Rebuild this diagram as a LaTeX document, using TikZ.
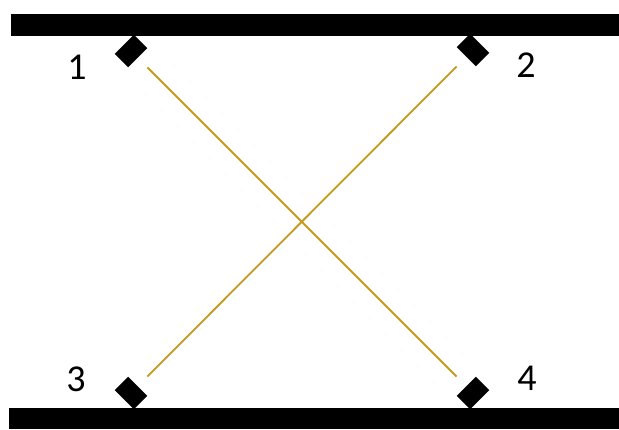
\documentclass[tikz,border=0pt]{standalone}
\usepackage{fontspec}
\setmainfont{Carlito}
\usetikzlibrary{positioning}
\definecolor{beam}{RGB}{196,154,28}
\tikzset{
    sensor/.style={rectangle, fill=black, draw=none, inner sep=0pt, minimum width=27pt, minimum height=19pt},
    num/.style={font=\fontsize{38}{44}\selectfont, inner sep=0pt},
    ray/.style={beam, line width=1.8pt, shorten <=13.5pt, shorten >=13.5pt}
}
\begin{document}
\begin{tikzpicture}[x=1pt, y=1pt]
  \useasboundingbox (0,0) rectangle (619,429);
  % walls
  \fill (11,393) rectangle (619,415);
  \fill (9,0) rectangle (619,21);

  % sensors
  \node (s1) [sensor, rotate=45] at (131,378) {};
  \node (s2) [sensor, rotate=-45] at (473,379) {};
  \node (s3) [sensor, rotate=-45] at (131,36) {};
  \node (s4) [sensor, rotate=45] at (473,36) {};

  \node (n1) [num] at (77,362) {1};
  \node (n2) [num] at (526,364) {2};
  \node (n3) [num] at (76,50) {3};
  \node (n4) [num] at (527,51) {4};

  % crossing paths
  \draw [ray] (s1) -- (s4);
  \draw [ray] (s2) -- (s3);
\end{tikzpicture}
\end{document}
